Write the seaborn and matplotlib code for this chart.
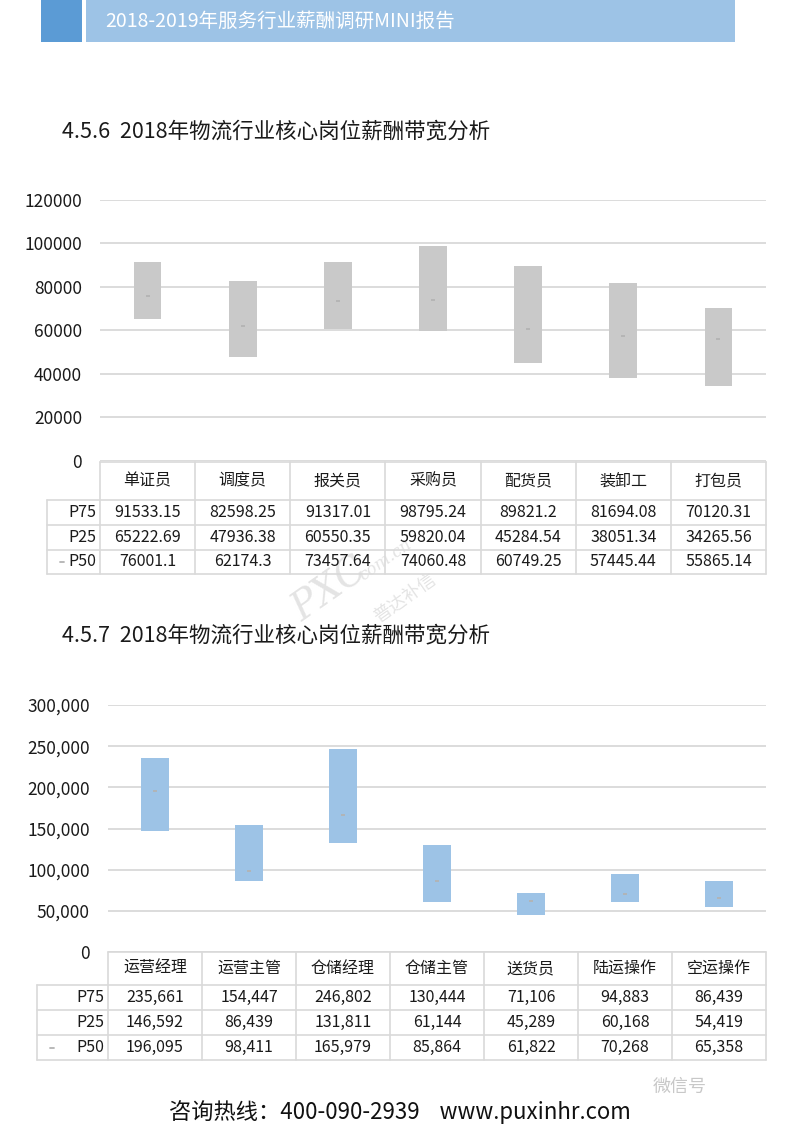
import matplotlib
matplotlib.use("Agg")
import matplotlib.pyplot as plt
from matplotlib.ticker import StrMethodFormatter
import seaborn as sns
import pandas as pd
import numpy as np

# =========================
# Data
# =========================

jobs_1 = ["单证员", "调度员", "报关员", "采购员", "配货员", "装卸工", "打包员"]
p75_1 = [91533.15, 82598.25, 91317.01, 98795.24, 89821.2, 81694.08, 70120.31]
p25_1 = [65222.69, 47936.38, 60550.35, 59820.04, 45284.54, 38051.34, 34265.56]
p50_1 = [76001.1, 62174.3, 73457.64, 74060.48, 60749.25, 57445.44, 55865.14]
yticks_1 = [0, 20000, 40000, 60000, 80000, 100000, 120000]

jobs_2 = ["运营经理", "运营主管", "仓储经理", "仓储主管", "送货员", "陆运操作", "空运操作"]
p75_2 = [235661, 154447, 246802, 130444, 71106, 94883, 86439]
p25_2 = [146592, 86439, 131811, 61144, 45289, 60168, 54419]
p50_2 = [196095, 98411, 165979, 85864, 61822, 70268, 65358]
yticks_2 = [0, 50000, 100000, 150000, 200000, 250000, 300000]

header_text = "2018-2019年服务行业薪酬调研MINI报告"
title_1 = "4.5.6  2018年物流行业核心岗位薪酬带宽分析"
title_2 = "4.5.7  2018年物流行业核心岗位薪酬带宽分析"
footer_text = "咨询热线：400-090-2939    www.puxinhr.com"

# =========================
# Style
# =========================

sns.set_theme(style="white")
plt.rcParams['font.family'] = ['Noto Sans CJK SC', 'DejaVu Sans']

W, H = 800, 1131
fig = plt.figure(figsize=(8, 11.31), dpi=100)
fig.patch.set_facecolor("white")

# overlay in pixel coordinates for page decoration and tables
page = fig.add_axes([0, 0, 1, 1], zorder=0)
page.set_xlim(0, W)
page.set_ylim(H, 0)
page.axis("off")
page.patch.set_alpha(0)

GRID = "#d9d9d9"
TXT = "#1a1a1a"


def px_axes(left, right, top, bottom):
    return fig.add_axes([left / W, 1 - bottom / H, (right - left) / W, (bottom - top) / H], zorder=2)


def band_chart(ax, jobs, p25, p75, p50, ticks, color, width, fmt, tick_size):
    df = pd.DataFrame({"岗位": jobs, "P25": p25, "P75": p75, "P50": p50})
    df["带宽"] = df["P75"] - df["P25"]

    sns.barplot(
        data=df, x="岗位", y="带宽",
        bottom=df["P25"].to_numpy(),
        color=color, saturation=1, width=width,
        edgecolor="none", linewidth=0,
        errorbar=None, ax=ax, zorder=3
    )

    sns.pointplot(
        data=df, x="岗位", y="P50",
        linestyle="none", marker="_", markersize=3.5,
        markeredgewidth=1.3, color="#b3b3b3",
        errorbar=None, ax=ax
    )
    for c in ax.collections + ax.lines:
        c.set_zorder(4)

    ax.set_xlim(-0.5, len(jobs) - 0.5)
    ax.set_ylim(ticks[0], ticks[-1])
    ax.set_yticks(ticks)
    ax.yaxis.set_major_formatter(StrMethodFormatter(fmt))
    ax.yaxis.grid(True, color=GRID, lw=1.3)
    ax.set_axisbelow(True)
    ax.set_xlabel("")
    ax.set_ylabel("")
    ax.tick_params(axis="x", labelbottom=False, length=0)
    ax.tick_params(axis="y", length=0, pad=13, labelsize=tick_size, labelcolor=TXT)
    sns.despine(ax=ax, left=True, bottom=True)
    ax.patch.set_alpha(0)


def draw_table(jobs, rows, x_label, x0, x1, y_head, y_rows, label_size, val_size):
    n = len(jobs)
    xs = np.linspace(x0, x1, n + 1)
    y_top_rows = y_rows[0]
    y_bot = y_rows[-1]
    # horizontal lines
    page.plot([x0, x1], [y_head, y_head], color=GRID, lw=1.2)
    for y in y_rows:
        page.plot([x_label, x1], [y, y], color=GRID, lw=1.2)
    # vertical lines
    page.plot([x_label, x_label], [y_top_rows, y_bot], color=GRID, lw=1.2)
    for x in xs:
        page.plot([x, x], [y_head, y_bot], color=GRID, lw=1.2)
    # header
    for i, j in enumerate(jobs):
        page.text((xs[i] + xs[i + 1]) / 2, (y_head + y_top_rows) / 2, j,
                  ha="center", va="center", fontsize=label_size, color=TXT)
    # rows
    for r, (name, vals, fmt) in enumerate(rows):
        yc = (y_rows[r] + y_rows[r + 1]) / 2
        page.text(x0 - 4, yc, name, ha="right", va="center", fontsize=val_size, color=TXT)
        if name == "P50":
            page.plot([x_label + 13, x_label + 17], [yc, yc], color="#b3b3b3", lw=1.3)
        for i, v in enumerate(vals):
            page.text((xs[i] + xs[i + 1]) / 2, yc, fmt(v),
                      ha="center", va="center", fontsize=val_size, color=TXT)


# =========================
# Page header
# =========================

page.add_patch(plt.Rectangle((41, 0), 41, 42, color="#5b9bd5", lw=0))
page.add_patch(plt.Rectangle((86, 0), 649, 42, color="#9dc3e6", lw=0))
page.text(105, 21, header_text, ha="left", va="center", fontsize=14, color="white")

page.text(62, 131, title_1, ha="left", va="center", fontsize=15.5, color=TXT)
page.text(62, 635, title_2, ha="left", va="center", fontsize=15.5, color=TXT)

# =========================
# Chart 1
# =========================

ax1 = px_axes(100, 766, 200, 461)
band_chart(ax1, jobs_1, p25_1, p75_1, p50_1, yticks_1, "#c9c9c9", 0.29, "{x:.0f}", 12.5)

draw_table(
    jobs_1,
    [("P75", p75_1, str), ("P25", p25_1, str), ("P50", p50_1, str)],
    47, 100, 766, 462, [500, 525, 550, 574], 11.5, 11.5
)

# =========================
# Chart 2
# =========================

ax2 = px_axes(108, 766, 705, 952)
band_chart(ax2, jobs_2, p25_2, p75_2, p50_2, yticks_2, "#9dc3e6", 0.3, "{x:,.0f}", 12.5)

draw_table(
    jobs_2,
    [("P75", p75_2, "{:,}".format), ("P25", p25_2, "{:,}".format), ("P50", p50_2, "{:,}".format)],
    37, 108, 766, 952, [985, 1010, 1035, 1060], 11.5, 11.5
)

# =========================
# Watermarks and footer
# =========================

page.text(330, 590, "PXC", rotation=35, fontsize=28, style="italic",
          family="DejaVu Serif", color="#e4e4e4", ha="center", va="center", zorder=1)
page.text(385, 560, "com.cn", rotation=35, fontsize=12, style="italic",
          family="DejaVu Serif", color="#e4e4e4", ha="center", va="center", zorder=1)
page.text(405, 598, "普达补信", rotation=35, fontsize=13,
          color="#e4e4e4", ha="center", va="center", zorder=1)

page.text(680, 1087, "微信号", ha="center", va="center", fontsize=13, color="#c8c8c8")

page.text(400, 1112, footer_text, ha="center", va="center", fontsize=16, color="#111111")

plt.savefig("out.png", dpi=100)
